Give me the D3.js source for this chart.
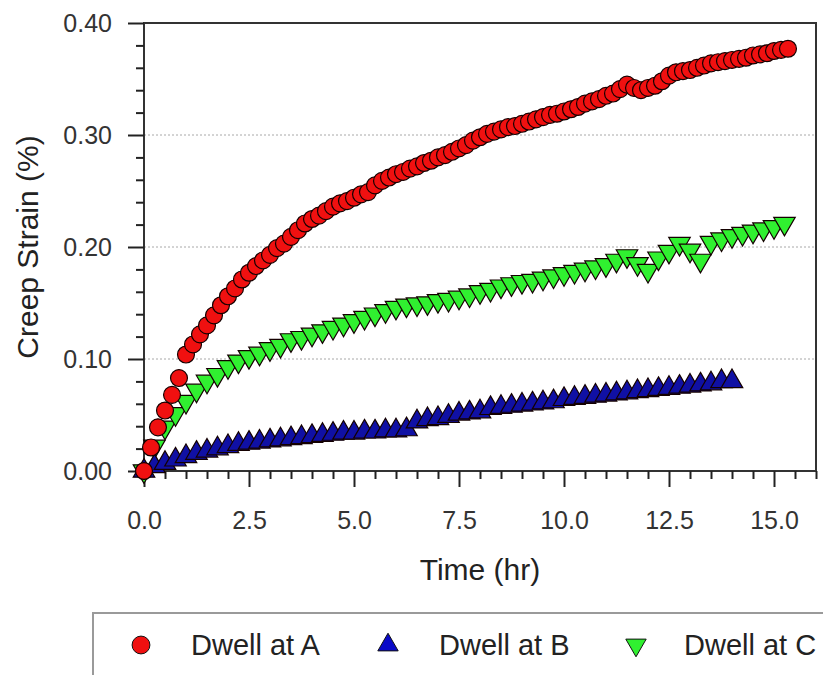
<!DOCTYPE html>
<html>
<head>
<meta charset="utf-8">
<script src="https://cdn.jsdelivr.net/npm/d3@7"></script>
<style>
  body { margin: 0; background: #fff; }
  svg text { font-family: "Liberation Sans", Arial, sans-serif; }
</style>
</head>
<body>
<svg id="chart" width="823" height="675"></svg>
<script>
// sample times (hr) for dwell A, logged every 10 min
var hoursA = [
  0, 0.167, 0.333, 0.5, 0.667, 0.833,
  1, 1.167, 1.333, 1.5, 1.667, 1.833,
  2, 2.167, 2.333, 2.5, 2.667, 2.833,
  3, 3.167, 3.333, 3.5, 3.667, 3.833,
  4, 4.167, 4.333, 4.5, 4.667, 4.833,
  5, 5.167, 5.333, 5.5, 5.667, 5.833,
  6, 6.167, 6.333, 6.5, 6.667, 6.833,
  7, 7.167, 7.333, 7.5, 7.667, 7.833,
  8, 8.167, 8.333, 8.5, 8.667, 8.833,
  9, 9.167, 9.333, 9.5, 9.667, 9.833,
  10, 10.167, 10.333, 10.5, 10.667, 10.833,
  11, 11.167, 11.333, 11.5, 11.667, 11.833,
  12, 12.167, 12.333, 12.5, 12.667, 12.833,
  13, 13.167, 13.333, 13.5, 13.667, 13.833,
  14, 14.167, 14.333, 14.5, 14.667, 14.833,
  15, 15.167, 15.333
];
var strainA = [
  0.000, 0.021, 0.039, 0.054, 0.068, 0.083,
  0.104, 0.113, 0.122, 0.130, 0.139, 0.148,
  0.156, 0.163, 0.171, 0.177, 0.183, 0.188,
  0.193, 0.199, 0.203, 0.209, 0.215, 0.221,
  0.225, 0.228, 0.232, 0.236, 0.239, 0.241,
  0.244, 0.247, 0.249, 0.255, 0.259, 0.262,
  0.265, 0.267, 0.270, 0.272, 0.275, 0.277,
  0.280, 0.282, 0.285, 0.288, 0.291, 0.295,
  0.298, 0.301, 0.303, 0.305, 0.307, 0.308,
  0.310, 0.312, 0.314, 0.316, 0.318, 0.319,
  0.321, 0.323, 0.325, 0.328, 0.330, 0.332,
  0.335, 0.337, 0.341, 0.345, 0.342, 0.340,
  0.342, 0.344, 0.348, 0.353, 0.356, 0.357,
  0.358, 0.360, 0.362, 0.364, 0.365, 0.366,
  0.367, 0.368, 0.369, 0.371, 0.372, 0.373,
  0.375, 0.376, 0.377
];

// sample times (hr) for dwell B and C, logged every 15 min
var hoursBC = [
  0, 0.25, 0.5, 0.75, 1, 1.25, 1.5, 1.75,
  2, 2.25, 2.5, 2.75, 3, 3.25, 3.5, 3.75,
  4, 4.25, 4.5, 4.75, 5, 5.25, 5.5, 5.75,
  6, 6.25, 6.5, 6.75, 7, 7.25, 7.5, 7.75,
  8, 8.25, 8.5, 8.75, 9, 9.25, 9.5, 9.75,
  10, 10.25, 10.5, 10.75, 11, 11.25, 11.5, 11.75,
  12, 12.25, 12.5, 12.75, 13, 13.25, 13.5, 13.75,
  14, 14.25, 14.5, 14.75, 15, 15.25
];
var strainB = [
  0.000, 0.004, 0.007, 0.010, 0.013, 0.016, 0.018, 0.020,
  0.022, 0.024, 0.025, 0.026, 0.027, 0.028, 0.029, 0.030,
  0.031, 0.032, 0.033, 0.034, 0.034, 0.035, 0.035, 0.036,
  0.036, 0.037, 0.044, 0.046, 0.047, 0.049, 0.051, 0.052,
  0.053, 0.056, 0.057, 0.058, 0.059, 0.060, 0.061, 0.062,
  0.064, 0.065, 0.066, 0.067, 0.068, 0.069, 0.070, 0.071,
  0.072, 0.073, 0.074, 0.075, 0.076, 0.077, 0.078, 0.080,
  0.080
];
var strainC = [
  0.000, 0.022, 0.039, 0.051, 0.062, 0.072, 0.080, 0.086,
  0.093, 0.098, 0.102, 0.105, 0.109, 0.112, 0.117, 0.119,
  0.122, 0.125, 0.128, 0.131, 0.134, 0.137, 0.140, 0.143,
  0.146, 0.148, 0.149, 0.150, 0.152, 0.153, 0.155, 0.157,
  0.160, 0.162, 0.165, 0.167, 0.169, 0.170, 0.172, 0.174,
  0.176, 0.178, 0.180, 0.182, 0.184, 0.188, 0.192, 0.185,
  0.179, 0.190, 0.196, 0.203, 0.197, 0.188, 0.204, 0.207,
  0.210, 0.212, 0.214, 0.216, 0.218, 0.221
];

var seriesNames = ["Dwell at A", "Dwell at B", "Dwell at C"];
var xTicks = [0, 2.5, 5, 7.5, 10, 12.5, 15];
var yTicks = [0, 0.1, 0.2, 0.3, 0.4];
var yGrid = [0.1, 0.2, 0.3];

var svg = d3.select("#chart");
var plot = { left: 144, right: 816, top: 23, bottom: 471 };

var x = d3.scaleLinear().domain([0, 16]).range([plot.left, plot.right]);
var y = d3.scaleLinear().domain([0, 0.4]).range([plot.bottom, plot.top]);

// minor tick positions
var xMinor = d3.range(0, 16.001, 0.5).filter(function (v) { return xTicks.indexOf(v) < 0; });
var yMinor = d3.range(0, 0.4001, 0.02).map(function (v) { return +v.toFixed(2); })
  .filter(function (v) { return yTicks.indexOf(v) < 0; });

// dotted grid
svg.append("g").selectAll("line").data(yGrid).enter().append("line")
  .attr("x1", plot.left).attr("x2", plot.right)
  .attr("y1", function (d) { return y(d); }).attr("y2", function (d) { return y(d); })
  .attr("stroke", "#a8a8a8").attr("stroke-width", 1).attr("stroke-dasharray", "2,2");

// frame
svg.append("rect")
  .attr("x", plot.left).attr("y", plot.top)
  .attr("width", plot.right - plot.left).attr("height", plot.bottom - plot.top)
  .attr("fill", "none").attr("stroke", "#333").attr("stroke-width", 2);

function styleAxis(g) {
  g.select(".domain").remove();
  g.selectAll(".tick line").attr("stroke", "#222").attr("stroke-width", 2);
  g.selectAll(".tick text").attr("fill", "#333").style("font-size", "25px");
}

svg.append("g").attr("transform", "translate(0," + plot.bottom + ")")
  .call(d3.axisBottom(x).tickValues(xMinor).tickSize(8).tickFormat(""))
  .call(styleAxis);
svg.append("g").attr("transform", "translate(0," + plot.bottom + ")")
  .call(d3.axisBottom(x).tickValues(xTicks).tickSize(16).tickPadding(24).tickFormat(d3.format(".1f")))
  .call(styleAxis);

svg.append("g").attr("transform", "translate(" + plot.left + ",0)")
  .call(d3.axisLeft(y).tickValues(yMinor).tickSize(8).tickFormat(""))
  .call(styleAxis);
svg.append("g").attr("transform", "translate(" + plot.left + ",0)")
  .call(d3.axisLeft(y).tickValues(yTicks).tickSize(16).tickPadding(16).tickFormat(d3.format(".2f")))
  .call(styleAxis);

// axis titles
svg.append("text")
  .attr("x", (plot.left + plot.right) / 2).attr("y", 580)
  .attr("text-anchor", "middle").attr("fill", "#222").style("font-size", "30px")
  .text("Time (hr)");
svg.append("text")
  .attr("transform", "translate(38," + ((plot.top + plot.bottom) / 2) + ") rotate(-90)")
  .attr("text-anchor", "middle").attr("fill", "#222").style("font-size", "30px")
  .text("Creep Strain (%)");

// series, drawn C, B, then A on top
var series = [
  { t: hoursBC, v: strainC, type: d3.symbolTriangle, size: 200, rot: 180, fill: "#30f030" },
  { t: hoursBC, v: strainB, type: d3.symbolTriangle, size: 200, rot: 0, fill: "#1010a4" },
  { t: hoursA, v: strainA, type: d3.symbolCircle, size: 225, rot: 0, fill: "#f01010" }
];

series.forEach(function (s) {
  var pts = s.v.map(function (v, i) { return { t: s.t[i], v: v }; });
  var sym = d3.symbol().type(s.type).size(s.size);
  svg.append("g").selectAll("path").data(pts).enter().append("path")
    .attr("d", sym)
    .attr("transform", function (d) {
      return "translate(" + x(d.t) + "," + y(d.v) + ") rotate(" + s.rot + ")";
    })
    .attr("fill", s.fill).attr("stroke", "#140000").attr("stroke-width", 1.2);
});

// legend
var legend = svg.append("g");
legend.append("rect")
  .attr("x", 93).attr("y", 613).attr("width", 800).attr("height", 120)
  .attr("fill", "#fff").attr("stroke", "#9a9a9a").attr("stroke-width", 2);

var legendItems = [
  { name: seriesNames[0], mx: 141, tx: 191, type: d3.symbolCircle, size: 250, rot: 0, fill: "#f01010" },
  { name: seriesNames[1], mx: 388, tx: 439, type: d3.symbolTriangle, size: 180, rot: 0, fill: "#0a0ac8" },
  { name: seriesNames[2], mx: 636, tx: 684, type: d3.symbolTriangle, size: 180, rot: 180, fill: "#30f030" }
];
legendItems.forEach(function (it) {
  legend.append("path")
    .attr("d", d3.symbol().type(it.type).size(it.size))
    .attr("transform", "translate(" + it.mx + ",645) rotate(" + it.rot + ")")
    .attr("fill", it.fill).attr("stroke", "#111").attr("stroke-width", 1);
  legend.append("text")
    .attr("x", it.tx).attr("y", 655)
    .attr("fill", "#222").style("font-size", "29px")
    .text(it.name);
});
</script>
</body>
</html>
